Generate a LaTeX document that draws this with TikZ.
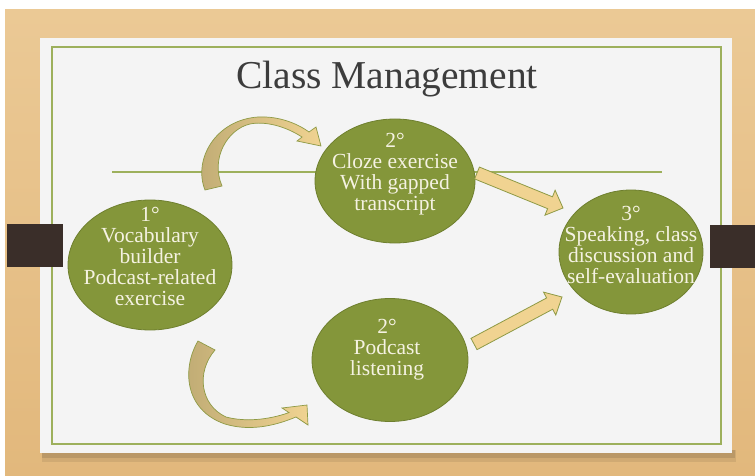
\documentclass[tikz,border=0pt]{standalone}
\usepackage{fontspec}
\setmainfont{Liberation Serif}
\usetikzlibrary{calc,shapes.geometric}
\definecolor{wood}{HTML}{E2B87C}
\definecolor{woodlight}{HTML}{EBC995}
\definecolor{card}{HTML}{F4F4F4}
\definecolor{frame}{HTML}{9DB05C}
\definecolor{olive}{HTML}{84963A}
\definecolor{oliveedge}{HTML}{6E7F2E}
\definecolor{tab}{HTML}{3A2E29}
\definecolor{arrowfill}{HTML}{F0D391}
\definecolor{arrowdark}{HTML}{BFAB74}
\definecolor{arrowedge}{HTML}{8E9A45}
\definecolor{txt}{HTML}{F5F2E2}
\definecolor{titlecol}{HTML}{3C3C3C}
\newcommand{\blockarrow}[6][]{%
  \coordinate (ba-hb) at ($(#3)!#6!(#2)$);
  \draw[#1] ($(#2)!#4!90:(#3)$) -- ($(ba-hb)!#4!-90:(#2)$) -- ($(ba-hb)!#5!-90:(#2)$)
    -- (#3) -- ($(ba-hb)!#5!90:(#2)$) -- ($(ba-hb)!#4!90:(#2)$) -- ($(#2)!#4!-90:(#3)$) -- cycle;
}
\begin{document}
\begin{tikzpicture}[x=1pt,y=-1pt,
  stage/.style={ellipse, draw=oliveedge, line width=0.8pt, fill=olive, inner sep=0pt},
  stagetext/.style={text=txt, align=center, font=\fontsize{21.5}{21}\selectfont, inner sep=0pt},
  blockarr/.style={fill=arrowfill, draw=arrowedge, line width=0.8pt, line join=miter},
  curvearr/.style={left color=arrowdark, right color=arrowfill, draw=arrowedge, line width=0.7pt}]
\useasboundingbox (0,0) rectangle (755,476);
% backdrop
\fill[white] (0,0) rectangle (755,476);
\shade[top color=woodlight, bottom color=wood] (5,10) rectangle (755,476);
% card
\fill[black, opacity=0.08] (42,450) rectangle (736,462);
\fill[black, opacity=0.10] (42,450) rectangle (735,458);
\fill[card] (40,38) rectangle (732,453);
\draw[frame, line width=1.6pt] (52,47) rectangle (721,444);
\node[text=titlecol, font=\fontsize{39.5}{42}\selectfont, anchor=base] (title) at (387,89) {Class Management};
\draw[frame, line width=1.4pt] (112,172) -- (662,172);
% tabs
\fill[tab] (7,224) rectangle (63,267);
\fill[tab] (710,225) rectangle (755,268);
% stages
\node[stage, minimum width=164pt, minimum height=130pt] (s1) at (150,265) {};
\node[stage, minimum width=160pt, minimum height=124pt] (s2a) at (395,181) {};
\node[stage, minimum width=156pt, minimum height=123pt] (s2b) at (390,360) {};
\node[stage, minimum width=144pt, minimum height=124pt] (s3) at (631,252) {};
\node[stagetext] (t1) at ($(s1.center)+(0,-9)$) {1°\\Vocabulary\\builder\\Podcast-related\\exercise};
\node[stagetext] (t2a) at ($(s2a.center)+(0,-7)$) {2°\\Cloze exercise\\With gapped\\transcript};
\node[stagetext] (t2b) at ($(s2b.center)+(-3,-10)$) {2°\\Podcast\\listening};
\node[stagetext] (t3) at ($(s3.center)+(0,-7)$) {3°\\Speaking, class\\discussion and\\self-evaluation};
% straight arrows
\coordinate (a1s) at (477,173); \coordinate (a1e) at (563,208);
\coordinate (a2s) at (474,344); \coordinate (a2e) at (562,297);
\blockarrow[blockarr]{a1s}{a1e}{6.4pt}{13.5pt}{14pt}
\blockarrow[blockarr]{a2s}{a2e}{6.4pt}{13pt}{14pt}
% curved arrows
\shade[curvearr] (205,190) .. controls (193,160) and (215,120) .. (258,117)
  .. controls (280,116) and (298,124) .. (309,132) -- (316,127) -- (321,146) -- (297,141)
  -- (302,137) .. controls (285,126) and (265,121) .. (250,124)
  .. controls (228,129) and (210,158) .. (222,186) -- cycle;
\shade[curvearr] (198,341) .. controls (182,368) and (184,410) .. (225,424)
  .. controls (248,431) and (272,427) .. (296,417) -- (308,425) -- (307,405) -- (282,408)
  -- (289,412.6) .. controls (268,420) and (245,422) .. (226,417)
  .. controls (200,405) and (196,372) .. (215,350) -- cycle;
\end{tikzpicture}
\end{document}
